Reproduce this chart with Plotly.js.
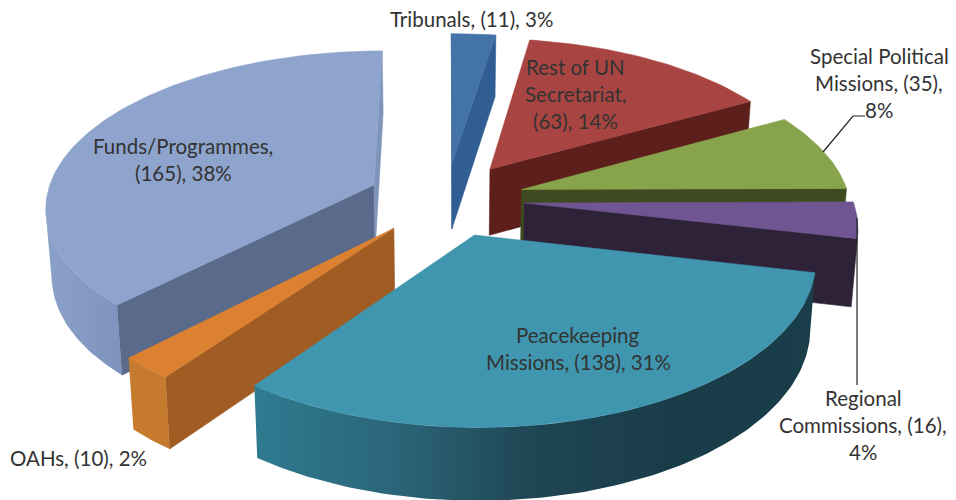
<!DOCTYPE html>
<html>
<head>
<meta charset="utf-8">
<script src="https://cdn.plot.ly/plotly-3.0.1.min.js"></script>
<style>html,body{margin:0;padding:0;background:#fff}#chart{width:956px;height:500px}</style>
</head>
<body>
<div id="chart"></div>
<script>
// Staff by entity type, clockwise from twelve o'clock.
const categories = ['Tribunals', 'Rest of UN Secretariat', 'Special Political Missions', 'Regional Commissions', 'Peacekeeping Missions', 'OAHs', 'Funds/Programmes'];
const values = [11, 63, 35, 16, 138, 10, 165];
const labelLines = [
  ['Tribunals, (11), 3%'],
  ['Rest of UN', 'Secretariat,', '(63), 14%'],
  ['Special Political', 'Missions, (35),', '8%'],
  ['Regional', 'Commissions, (16),', '4%'],
  ['Peacekeeping', 'Missions, (138), 31%'],
  ['OAHs, (10), 2%'],
  ['Funds/Programmes,', '(165), 38%']
];
const labelAnchors = [[471, 19], [575, 67], [879, 56], [863, 398], [578, 335], [78, 458], [183, 146]];
const topColors = ['#4473a8', '#a84441', '#87a34b', '#6f5591', '#3f96ae', '#dc8131', '#8ea4cc'];
const startWallColors = ['#2f5d94', '#5d1f1c', '#3e4a1f', '#2e2238', '#1c4452', '#a05c22', '#5a6a8a'];
const endWallColors = ['#2f5d94', '#5d1f1c', '#3e4a1f', '#2e2238', '#1c4452', '#a05c22', '#7f94ba'];
const arcStops = [
  ['#2f5d94', '#2f5d94'], ['#5d1f1c', '#5d1f1c'], ['#3e4a1f', '#3e4a1f'], ['#2e2238', '#2e2238'],
  ['#2f7b90', '#2b6579', '#1f4553', '#193c49', '#1a3d4a'],
  ['#c67a2e', '#c67a2e'], ['#8ba1ca', '#7d93bd']
];
const paintOrder = [0, 1, 2, 6, 3, 5, 4];

// Camera model for the tilted, exploded disc.
const cam = {cx: 446, cy: 199, sx: 328, sy: 155.7, kx: 0.13, ky: 0.135, depth: 67, depthK: 0.07, shrink: 0.985, pull: 0.24};
function project(u, v, lower) {
  const x = cam.sx * u / (1 + cam.kx * v);
  const y = -cam.sy * v / (1 + cam.ky * v);
  if (!lower) return [cam.cx + x, cam.cy + y];
  return [cam.cx + x * cam.shrink, cam.cy + y + cam.depth / (1 + cam.depthK * v)];
}
const rad = d => d * Math.PI / 180;
const total = values.reduce((a, b) => a + b, 0);

function polygonTrace(pts, name, color, stops) {
  const t = {
    type: 'scatter', mode: 'lines', name: name, hoverinfo: 'skip', showlegend: false,
    x: pts.map(p => p[0]).concat(pts[0][0]),
    y: pts.map(p => p[1]).concat(pts[0][1]),
    fill: 'toself', line: {width: stops ? 0 : 0.6, color: color}, fillcolor: color
  };
  if (stops) {
    t.fillgradient = {type: 'horizontal', colorscale: stops.map((c, i) => [i / (stops.length - 1), c])};
  }
  return t;
}
function facesViewer(a, b, c, d) {
  const pts = [a, b, c, d];
  let s = 0;
  for (let i = 0; i < 4; i++) {
    const p = pts[i], q = pts[(i + 1) % 4];
    s += p[0] * q[1] - q[0] * p[1];
  }
  return s < 0;
}

// Start and end angle of every slice, from its share of the total.
let running = 0;
const slices = values.map(v => {
  const start = running / total * 360;
  running += v;
  return {start: start, end: running / total * 360};
});

const traces = [];
paintOrder.forEach(i => {
  const s = slices[i];
  const mid = rad((s.start + s.end) / 2);
  const ou = cam.pull * Math.sin(mid), ov = cam.pull * Math.cos(mid);
  const rim = [];
  for (let a = s.start; ; a += 1) {
    const ang = Math.min(a, s.end);
    rim.push([ou + Math.sin(rad(ang)), ov + Math.cos(rad(ang))]);
    if (ang >= s.end) break;
  }
  const boundary = [[ou, ov]].concat(rim);
  const top = boundary.map(p => project(p[0], p[1], false));
  const low = boundary.map(p => project(p[0], p[1], true));
  const n = boundary.length;
  const name = categories[i];

  // Cut faces running from the apex to the rim.
  [[0, 1, startWallColors], [n - 1, 0, endWallColors]].forEach(e => {
    const [a, b, colors] = e;
    if (facesViewer(top[a], top[b], low[b], low[a])) {
      traces.push(polygonTrace([top[a], top[b], low[b], low[a]], name, colors[i]));
    }
  });
  // Outer curved face: only the stretch turned towards the viewer.
  let first = -1, last = -1;
  for (let j = 1; j < n - 1; j++) {
    if (facesViewer(top[j], top[j + 1], low[j + 1], low[j])) {
      if (first < 0) first = j;
      last = j + 1;
    }
  }
  if (first > 0) {
    const upper = top.slice(first, last + 1);
    const lower = low.slice(first, last + 1).reverse();
    traces.push(polygonTrace(upper.concat(lower), name, arcStops[i][0], arcStops[i]));
  }
  traces.push(polygonTrace(top, name, topColors[i]));
});

const lineGap = 27;
const annotations = [];
labelLines.forEach((lines, i) => {
  lines.forEach((text, j) => {
    annotations.push({
      x: labelAnchors[i][0], y: labelAnchors[i][1] + j * lineGap, xref: 'x', yref: 'y',
      text: text, showarrow: false, xanchor: 'center', yanchor: 'middle',
      font: {family: 'Lato, sans-serif', size: 20.5, color: '#333'}
    });
  });
});

const leader = {color: '#222', width: 1.2};
const layout = {
  width: 956, height: 500, margin: {l: 0, r: 0, t: 0, b: 0},
  paper_bgcolor: '#fff', plot_bgcolor: '#fff', showlegend: false,
  xaxis: {range: [0, 956], visible: false, fixedrange: true},
  yaxis: {range: [500, 0], visible: false, fixedrange: true},
  annotations: annotations,
  shapes: [
    {type: 'path', path: 'M865,116 L853,116 L823,152', line: leader},
    {type: 'line', x0: 857, y0: 218, x1: 857, y1: 385, line: leader}
  ]
};
Plotly.newPlot('chart', traces, layout, {displayModeBar: false, staticPlot: true});
</script>
</body>
</html>
